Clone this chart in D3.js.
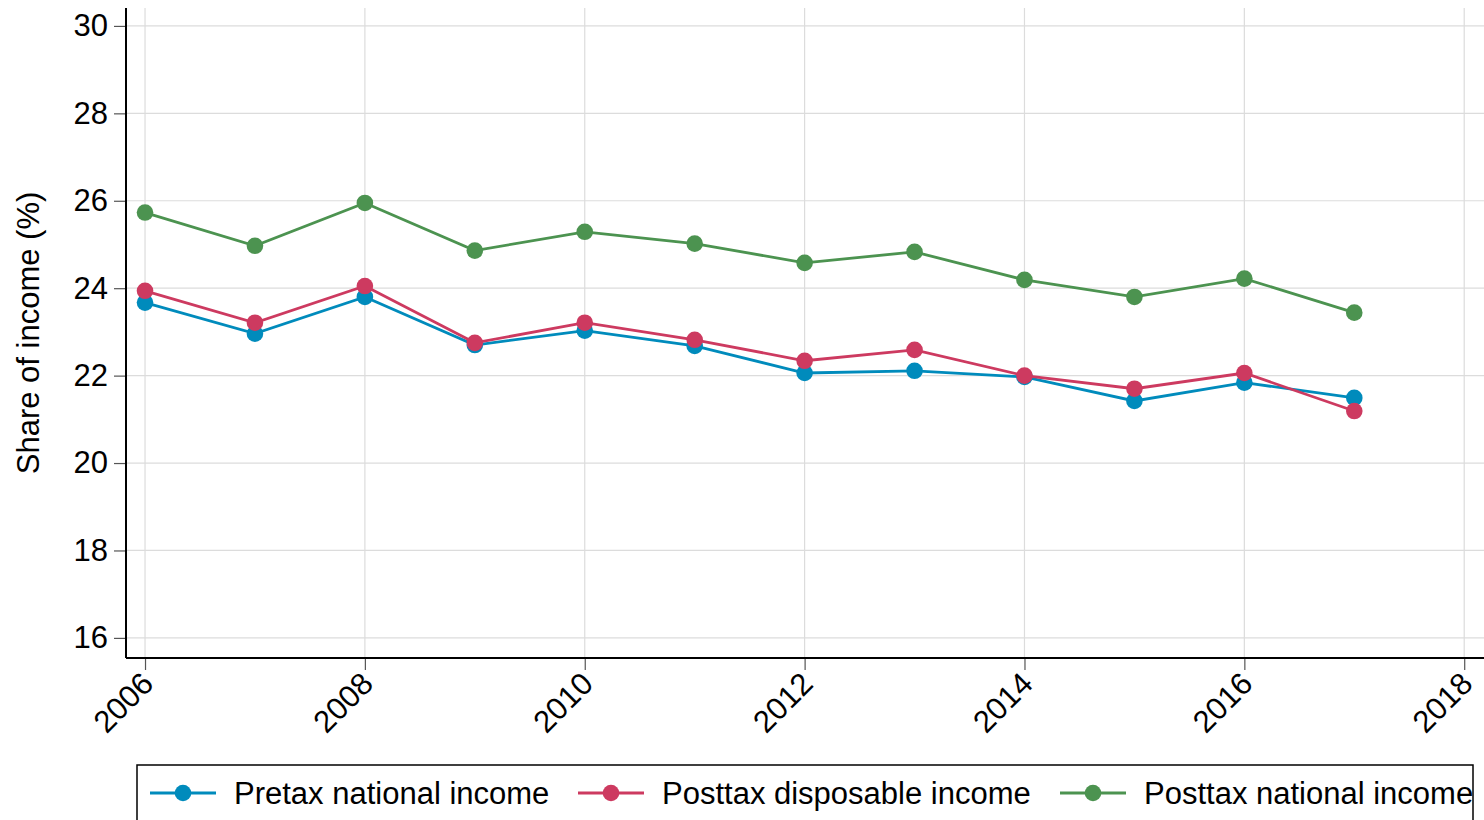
<!DOCTYPE html>
<html>
<head>
<meta charset="utf-8">
<script src="https://cdn.jsdelivr.net/npm/d3@7"></script>
<style>
  html, body { margin: 0; padding: 0; background: #fff; }
  svg { display: block; }
  text { font-family: "Liberation Sans", Arial, sans-serif; fill: #000; }
</style>
</head>
<body>
<svg id="chart" width="1484" height="820"></svg>
<script>
const years = [2006, 2007, 2008, 2009, 2010, 2011, 2012, 2013, 2014, 2015, 2016, 2017];
const pretaxNational = [23.67, 22.96, 23.80, 22.70, 23.03, 22.68, 22.06, 22.11, 21.97, 21.42, 21.84, 21.49];
const posttaxDisposable = [23.94, 23.21, 24.05, 22.75, 23.21, 22.82, 22.34, 22.59, 22.00, 21.70, 22.06, 21.19];
const posttaxNational = [25.73, 24.97, 25.95, 24.86, 25.29, 25.02, 24.58, 24.83, 24.19, 23.80, 24.22, 23.44];
const seriesNames = ["Pretax national income", "Posttax disposable income", "Posttax national income"];
const seriesColors = ["#008bbc", "#cd3a60", "#4c9350"];
const yTicks = [16, 18, 20, 22, 24, 26, 28, 30];
const xTicks = [2006, 2008, 2010, 2012, 2014, 2016, 2018];
const yTitle = "Share of income (%)";

(function () {
const seriesValues = [pretaxNational, posttaxDisposable, posttaxNational];

const svg = d3.select("#chart");
const pL = 126, pR = 1484, pT = 8, pB = 658;

const x = d3.scaleLinear().domain([2005.827, 2018.18]).range([pL, pR]);
const y = d3.scaleLinear().domain([15.54, 30.41]).range([pB, pT]);

// grid
const grid = svg.append("g");
grid.selectAll("line.h").data(yTicks).enter().append("line")
  .attr("x1", pL).attr("x2", pR)
  .attr("y1", d => y(d)).attr("y2", d => y(d))
  .attr("stroke", "#dcdcdc").attr("stroke-width", 1.2);
grid.selectAll("line.v").data(xTicks).enter().append("line")
  .attr("x1", d => x(d)).attr("x2", d => x(d))
  .attr("y1", pT).attr("y2", pB)
  .attr("stroke", "#dcdcdc").attr("stroke-width", 1.2);

// y axis
const yAxis = svg.append("g").attr("transform", `translate(${pL},0)`)
  .call(d3.axisLeft(y).tickValues(yTicks).tickSize(12).tickPadding(6).tickFormat(d3.format("d")));
yAxis.select(".domain").remove();
yAxis.selectAll(".tick line").attr("stroke", "#555").attr("stroke-width", 1.2);
yAxis.selectAll(".tick text").style("font-size", "31px").attr("font-family", "Liberation Sans, Arial, sans-serif");
svg.append("line").attr("x1", pL).attr("x2", pL).attr("y1", pT).attr("y2", pB)
  .attr("stroke", "#000").attr("stroke-width", 2);

// x axis
const xAxis = svg.append("g").attr("transform", `translate(0,${pB})`)
  .call(d3.axisBottom(x).tickValues(xTicks).tickSize(12).tickFormat(d3.format("d")));
xAxis.select(".domain").remove();
xAxis.selectAll(".tick line").attr("stroke", "#555").attr("stroke-width", 1.2);
xAxis.selectAll(".tick text")
  .style("font-size", "31px").attr("font-family", "Liberation Sans, Arial, sans-serif")
  .attr("text-anchor", "end")
  .attr("dy", "0.35em")
  .attr("transform", "translate(2,20) rotate(-45)")
  .attr("x", 0).attr("y", 0);
svg.append("line").attr("x1", pL).attr("x2", pR).attr("y1", pB).attr("y2", pB)
  .attr("stroke", "#000").attr("stroke-width", 2);

// y title
svg.append("text")
  .attr("transform", `translate(39,${(pT + pB) / 2}) rotate(-90)`)
  .attr("text-anchor", "middle")
  .style("font-size", "31px")
  .text(yTitle);

// series
const line = d3.line().x((d, i) => x(years[i])).y(d => y(d));
seriesValues.forEach((vals, si) => {
  const g = svg.append("g");
  g.append("path").datum(vals).attr("d", line)
    .attr("fill", "none").attr("stroke", seriesColors[si]).attr("stroke-width", 2.8);
  g.selectAll("circle").data(vals).enter().append("circle")
    .attr("cx", (d, i) => x(years[i])).attr("cy", d => y(d)).attr("r", 8.3)
    .attr("fill", seriesColors[si]);
});

// legend
const leg = svg.append("g");
leg.append("rect").attr("x", 137).attr("y", 765).attr("width", 1336).attr("height", 80)
  .attr("fill", "#fff").attr("stroke", "#000").attr("stroke-width", 1.5);
const legX = [150, 578, 1060];
seriesNames.forEach((name, i) => {
  const lx = legX[i], ly = 793;
  leg.append("line").attr("x1", lx).attr("x2", lx + 66).attr("y1", ly).attr("y2", ly)
    .attr("stroke", seriesColors[i]).attr("stroke-width", 2.8);
  leg.append("circle").attr("cx", lx + 33).attr("cy", ly).attr("r", 8.3).attr("fill", seriesColors[i]);
  leg.append("text").attr("x", lx + 84).attr("y", ly).attr("dy", "0.35em")
    .style("font-size", "31px").text(name);
});
})();
</script>
</body>
</html>
